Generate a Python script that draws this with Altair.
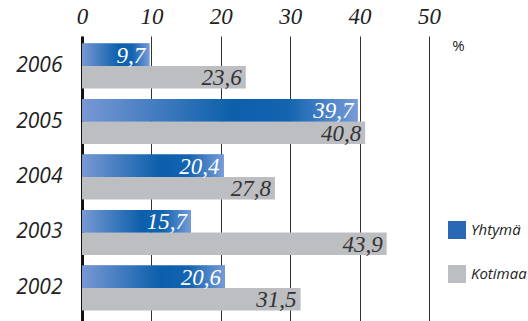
import altair as alt
import pandas as pd

years = ["2006", "2005", "2004", "2003", "2002"]
series = ["Yhtymä", "Kotimaa"]
yhtyma = [9.7, 39.7, 20.4, 15.7, 20.6]
kotimaa = [23.6, 40.8, 27.8, 43.9, 31.5]
ticks = [0, 10, 20, 30, 40, 50]

rows = []
for i, y in enumerate(years):
    rows.append({"year": y, "series": series[0], "value": yhtyma[i]})
    rows.append({"year": y, "series": series[1], "value": kotimaa[i]})
df = pd.DataFrame(rows)

SERIF = "Liberation Serif"

blue_grad = alt.Gradient(
    gradient="linear",
    stops=[
        alt.GradientStop(color="#7898d4", offset=0),
        alt.GradientStop(color="#0b5fab", offset=0.55),
        alt.GradientStop(color="#1464b0", offset=0.75),
        alt.GradientStop(color="#769bd9", offset=1),
    ],
    x1=0, x2=1, y1=0, y2=0,
)

base = alt.Chart(df).encode(
    y=alt.Y(
        "year:N", sort=years,
        scale=alt.Scale(paddingInner=0, paddingOuter=0.0676, align=0.3),
        axis=alt.Axis(
            title=None, ticks=False, domain=True, domainColor="#111", domainWidth=3,
            labelFont="Open Sans", labelFontStyle="italic", labelFontSize=21,
            labelColor="#222", labelPadding=20,
        ),
    ),
    yOffset=alt.YOffset(
        "series:N", sort=series,
        scale=alt.Scale(domain=series, paddingInner=0, paddingOuter=0.233),
    ),
    x=alt.X(
        "value:Q",
        scale=alt.Scale(domain=[0, 50], nice=False),
        axis=alt.Axis(
            orient="top", values=ticks, grid=True, gridColor="#333", gridWidth=1,
            ticks=False, domain=False, labelFlush=False,
            labelFont=SERIF, labelFontStyle="italic", labelFontSize=23,
            labelColor="#222", labelPadding=8,
            title="%", titleFont="Open Sans", titleFontWeight="normal", titleFontSize=15,
            titleColor="#222", titleX=376, titleY=9, titleAlign="center", titleBaseline="middle",
        ),
    ),
)

bars = base.mark_bar().encode(
    color=alt.Color(
        "series:N", sort=series,
        scale=alt.Scale(domain=series, range=["#2a68b5", "#bdbec1"]),
        legend=alt.Legend(
            title=None, orient="none", legendX=366, legendY=185,
            symbolType="square", symbolSize=324, symbolStrokeWidth=0,
            labelFont="Open Sans", labelFontStyle="italic", labelFontSize=15,
            labelColor="#222", rowPadding=26, labelOffset=5,
        ),
    )
)

grad = base.mark_bar(color=blue_grad).transform_filter(alt.datum.series == "Yhtymä")

labels = base.mark_text(
    align="right", baseline="middle", dx=-4, dy=1,
    font=SERIF, fontStyle="italic", fontSize=23,
).encode(
    text="label:N",
    color=alt.condition(alt.datum.series == "Yhtymä", alt.value("white"), alt.value("#333")),
).transform_calculate(label="replace(format(datum.value, '.1f'), '.', ',')")

chart = alt.layer(bars, grad, labels).properties(
    width=347, height=285,
    padding={"left": 82, "top": 36, "right": 99, "bottom": 0},
    autosize="none",
    background="white",
).configure_view(stroke=None)

chart.save("out.html", embed_options={"renderer": "svg", "actions": False})
